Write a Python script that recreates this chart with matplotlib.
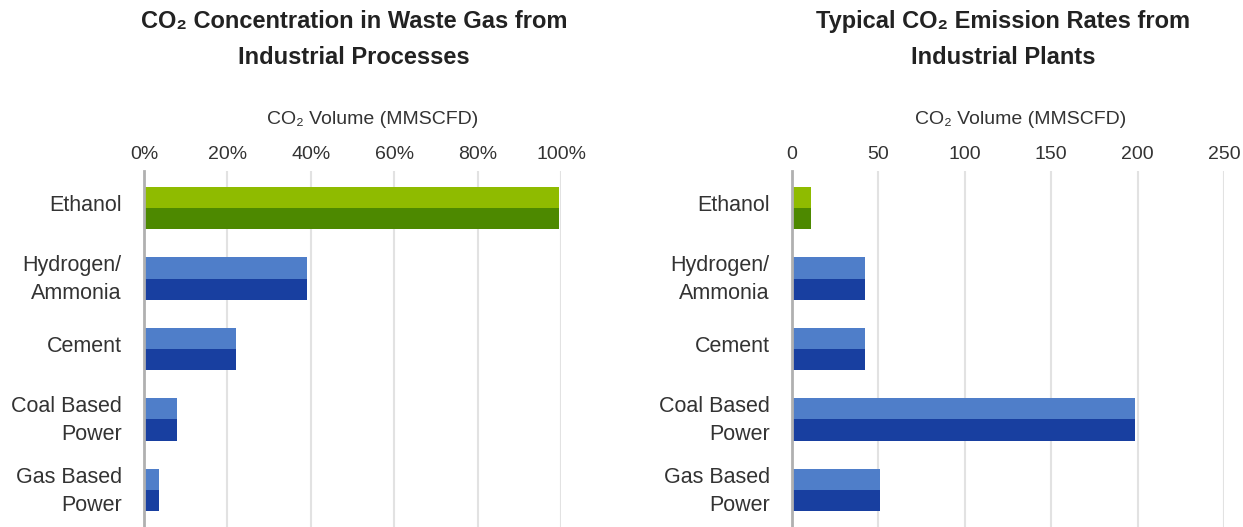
import matplotlib
matplotlib.use("Agg")
import matplotlib.pyplot as plt
import numpy as np

plt.rcParams['font.family'] = ['Liberation Sans', 'DejaVu Sans']

categories = ["Ethanol", "Hydrogen/\nAmmonia", "Cement", "Coal Based\nPower", "Gas Based\nPower"]
concentration_pct = [99.5, 39, 22, 8, 3.5]
emission_mmscfd = [11, 42.5, 42.5, 198.5, 51]

light_colors = ["#8FBB00", "#4F7EC9", "#4F7EC9", "#4F7EC9", "#4F7EC9"]
dark_colors = ["#4D8900", "#183FA0", "#183FA0", "#183FA0", "#183FA0"]

text_color = "#333333"
W, H = 1243, 527

fig = plt.figure(figsize=(W / 100, H / 100), dpi=100)


def draw_panel(rect, values, xmax, ticks, ticklabels, title, title_x, label_x):
    ax = fig.add_axes(rect)
    y = np.arange(len(categories))
    ax.barh(y - 0.15, values, height=0.3, color=light_colors, zorder=3)
    ax.barh(y + 0.15, values, height=0.3, color=dark_colors, zorder=3)
    ax.set_xlim(0, xmax)
    ax.set_ylim(len(categories) - 0.475, -0.525)
    # labels sit a little above the bar centres in the original
    ax.set_yticks(y - 0.07)
    ax.set_yticklabels(categories, fontsize=15.5, color=text_color, linespacing=1.45)
    ax.xaxis.tick_top()
    ax.set_xticks(ticks)
    ax.set_xticklabels(ticklabels, fontsize=14, color=text_color)
    ax.tick_params(axis="x", length=0, pad=6)
    ax.tick_params(axis="y", length=0, pad=16)
    ax.grid(axis="x", color="#e2e2e2", linewidth=1.5, zorder=0)
    for s in ["top", "right", "bottom"]:
        ax.spines[s].set_visible(False)
    ax.spines["left"].set_color("#b0b0b0")
    ax.spines["left"].set_linewidth(2)
    ax.spines["left"].set_zorder(4)
    fig.text(title_x / W, 1 - 39.5 / H, title, ha="center", va="center",
             fontsize=17, fontweight="bold", color="#222222", linespacing=1.75)
    fig.text(label_x / W, 1 - 119 / H, "CO₂ Volume (MMSCFD)", ha="center",
             va="center", fontsize=14, color=text_color)
    return ax


draw_panel([144 / W, 0, 417 / W, 356 / H], concentration_pct, 100,
           [0, 20, 40, 60, 80, 100], ["0%", "20%", "40%", "60%", "80%", "100%"],
           "CO₂ Concentration in Waste Gas from\nIndustrial Processes", 354, 373)

draw_panel([792 / W, 0, 432 / W, 356 / H], emission_mmscfd, 250,
           [0, 50, 100, 150, 200, 250], ["0", "50", "100", "150", "200", "250"],
           "Typical CO₂ Emission Rates from\nIndustrial Plants", 1003, 1021)

fig.savefig("out.png", dpi=100, facecolor="white")
